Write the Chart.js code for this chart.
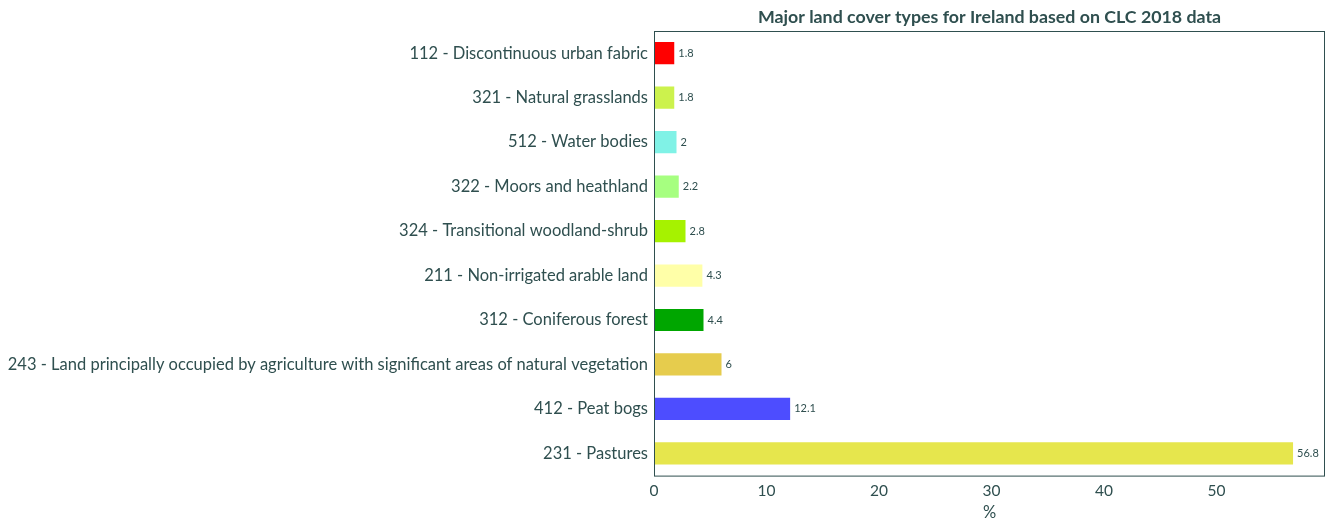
<!DOCTYPE html>
<html>
<head>
<meta charset="utf-8">
<script src="https://cdn.jsdelivr.net/npm/chart.js@4"></script>
<style>
  html, body { margin: 0; padding: 0; background: #fff; }
  #wrap { width: 1333px; height: 528px; }
</style>
</head>
<body>
<div id="wrap"><canvas id="chart-bars"></canvas></div>
<script>
const categories = [
    "112 - Discontinuous urban fabric",
    "321 - Natural grasslands",
    "512 - Water bodies",
    "322 - Moors and heathland",
    "324 - Transitional woodland-shrub",
    "211 - Non-irrigated arable land",
    "312 - Coniferous forest",
    "243 - Land principally occupied by agriculture with significant areas of natural vegetation",
    "412 - Peat bogs",
    "231 - Pastures"
];
const values = [1.8, 1.8, 2, 2.2, 2.8, 4.3, 4.4, 6, 12.1, 56.8];
const barColors = ["#ff0000", "#ccf24d", "#80f2e6", "#a6ff80", "#a6f200", "#ffffa8", "#00a600", "#e6cc4d", "#4d4dff", "#e6e64d"];
const xTicks = [0, 10, 20, 30, 40, 50];
const titleText = "Major land cover types for Ireland based on CLC 2018 data";

const textColor = "#2f4f4f";
const fontFamily = "Lato, 'Noto Sans', sans-serif";

// value labels next to the bars + title over the plot area + frame
const extras = {
    id: 'extras',
    afterDatasetsDraw(chart) {
        const ctx = chart.ctx;
        const meta = chart.getDatasetMeta(0);
        ctx.save();
        ctx.fillStyle = textColor;
        ctx.font = "11px " + fontFamily;
        ctx.textBaseline = "middle";
        ctx.textAlign = "left";
        meta.data.forEach((bar, i) => {
            ctx.fillText(String(values[i]), bar.x + 4, bar.y);
        });
        const a = chart.chartArea;
        ctx.strokeStyle = textColor;
        ctx.lineWidth = 1;
        ctx.strokeRect(a.left + 0.5, a.top + 0.5, a.right - a.left - 1, a.bottom - a.top);
        ctx.font = "bold 17.8px " + fontFamily;
        ctx.textAlign = "center";
        ctx.textBaseline = "middle";
        ctx.fillText(titleText, (a.left + a.right) / 2, 17);
        ctx.restore();
    }
};

const ctx = document.getElementById("chart-bars").getContext("2d");
new Chart(ctx, {
    type: "bar",
    data: {
        labels: categories,
        datasets: [{
            data: values,
            backgroundColor: barColors,
            borderWidth: 0,
            barPercentage: 0.5,
            categoryPercentage: 1.0
        }]
    },
    options: {
        indexAxis: 'y',
        responsive: true,
        maintainAspectRatio: false,
        animation: false,
        layout: {
            padding: { top: 31, right: 8, bottom: 3, left: 0 }
        },
        plugins: {
            legend: { display: false },
            tooltip: { enabled: false }
        },
        scales: {
            x: {
                min: 0,
                max: 59.64,
                afterBuildTicks(scale) {
                    scale.ticks = xTicks.map(v => ({ value: v }));
                },
                grid: { display: false, drawTicks: true, tickLength: 4 },
                border: { display: false },
                ticks: {
                    color: textColor,
                    padding: 2,
                    font: { size: 15.5, family: fontFamily }
                },
                title: {
                    display: true,
                    text: "%",
                    color: textColor,
                    padding: { top: 1, bottom: 2 },
                    font: { size: 16.5, family: fontFamily }
                }
            },
            y: {
                afterFit(scale) {
                    scale.width = 654;
                },
                grid: { display: false, drawTicks: true, tickLength: 4 },
                border: { display: false },
                ticks: {
                    color: textColor,
                    padding: 2,
                    font: { size: 16.5, family: fontFamily }
                }
            }
        }
    },
    plugins: [extras]
});
</script>
</body>
</html>
